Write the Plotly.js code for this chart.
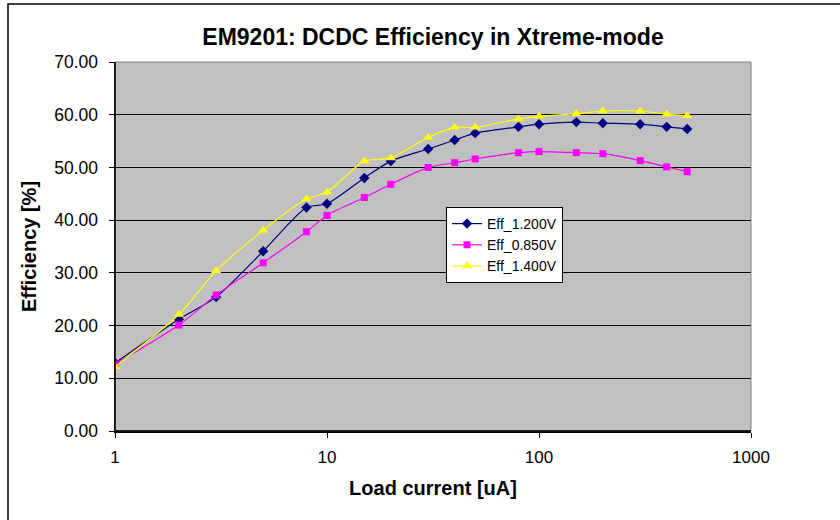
<!DOCTYPE html>
<html>
<head>
<meta charset="utf-8">
<script src="https://cdn.plot.ly/plotly-3.0.1.min.js"></script>
<style>
  html, body { margin: 0; padding: 0; background: #ffffff; }
  #chart { width: 840px; height: 520px; }
</style>
</head>
<body>
<div id="chart"></div>
<script>
// Load current [uA]
const loadCurrent = [1, 2, 3, 5, 8, 10, 15, 20, 30, 40, 50, 80, 100, 150, 200, 300, 400, 500];
// Efficiency [%]
const eff1200 = [12.9, 21.2, 25.4, 34.1, 42.4, 43.1, 48.0, 51.2, 53.5, 55.2, 56.5, 57.7, 58.2, 58.6, 58.4, 58.2, 57.7, 57.3];
const eff0850 = [12.7, 20.1, 25.8, 31.9, 37.8, 40.9, 44.3, 46.8, 50.0, 50.9, 51.6, 52.8, 53.0, 52.8, 52.6, 51.3, 50.1, 49.2];
const eff1400 = [12.2, 22.1, 30.4, 38.1, 44.0, 45.3, 51.2, 51.8, 55.7, 57.6, 57.6, 59.2, 59.7, 60.2, 60.7, 60.7, 60.1, 59.8];

const seriesNames = ['Eff_1.200V', 'Eff_0.850V', 'Eff_1.400V'];
const xTickVals = [1, 10, 100, 1000];
const xTickText = ['1', '10', '100', '1000'];

const FONT = 'Liberation Sans, Arial, Helvetica, sans-serif';

const traces = [
  {
    x: loadCurrent, y: eff1200, name: seriesNames[0], type: 'scatter', mode: 'lines+markers',
    line: { color: '#000080', width: 1.2, shape: 'spline', smoothing: 0.7 },
    marker: { symbol: 'diamond', size: 8, color: '#000080' }
  },
  {
    x: loadCurrent, y: eff0850, name: seriesNames[1], type: 'scatter', mode: 'lines+markers',
    line: { color: '#FF00FF', width: 1.2, shape: 'spline', smoothing: 0.7 },
    marker: { symbol: 'square', size: 7, color: '#FF00FF' }
  },
  {
    x: loadCurrent, y: eff1400, name: seriesNames[2], type: 'scatter', mode: 'lines+markers',
    line: { color: '#FFFF00', width: 1.2, shape: 'spline', smoothing: 0.7 },
    marker: { symbol: 'triangle-up', size: 9, color: '#FFFF00' }
  }
];

const layout = {
  width: 840, height: 520,
  margin: { l: 115, r: 89, t: 62, b: 89 },
  paper_bgcolor: '#ffffff',
  plot_bgcolor: '#C0C0C0',
  font: { family: FONT, color: '#000000', size: 17 },
  title: {
    text: 'EM9201: DCDC Efficiency in Xtreme-mode',
    font: { family: FONT, size: 23, color: '#000000', weight: 'bold' },
    x: 0.5, xref: 'paper', xanchor: 'center',
    y: 1 - 37 / 520, yref: 'container', yanchor: 'middle'
  },
  xaxis: {
    type: 'log', range: [0, 3],
    tickmode: 'array', tickvals: xTickVals, ticktext: xTickText,
    showgrid: false, zeroline: false,
    showline: true, linecolor: '#000000', linewidth: 1.5,
    ticks: 'outside', ticklen: 5, tickcolor: '#000000', tickwidth: 1,
    ticklabelstandoff: 5,
    tickfont: { family: FONT, size: 17, color: '#000000' },
    title: { text: 'Load current [uA]', font: { family: FONT, size: 20, weight: 'bold', color: '#000000' }, standoff: 15 }
  },
  yaxis: {
    range: [0, 70], dtick: 10, tick0: 0, tickformat: '.2f',
    showgrid: true, gridcolor: '#000000', gridwidth: 1,
    zeroline: false,
    showline: true, linecolor: '#000000', linewidth: 1.5,
    ticks: 'outside', ticklen: 5, tickcolor: '#000000', tickwidth: 1,
    ticklabelstandoff: 7,
    tickfont: { family: FONT, size: 17.5, color: '#000000' },
    title: { text: 'Efficiency [%]', font: { family: FONT, size: 20, weight: 'bold', color: '#000000' }, standoff: 12 }
  },
  legend: {
    x: (446 - 115) / 636, y: (431 - 207) / 369, xanchor: 'left', yanchor: 'top',
    bgcolor: '#ffffff', bordercolor: '#000000', borderwidth: 1,
    font: { family: FONT, size: 14, color: '#000000' },
    itemwidth: 30
  },
  showlegend: true,
  shapes: [
    { type: 'rect', xref: 'paper', yref: 'paper', x0: 0, x1: 1, y0: 0, y1: 1,
      line: { color: '#808080', width: 1 }, layer: 'above' },
    { type: 'line', xref: 'paper', yref: 'paper', x0: 0, x1: 0, y0: 0, y1: 1,
      line: { color: '#000000', width: 1.5 }, layer: 'above' },
    { type: 'line', xref: 'paper', yref: 'paper', x0: 0, x1: 1, y0: 0, y1: 0,
      line: { color: '#000000', width: 1.5 }, layer: 'above' },
    { type: 'rect', xref: 'paper', yref: 'paper',
      x0: (8 - 115) / 636, x1: 1.5, y0: -0.5, y1: (431 - 4) / 369,
      line: { color: '#000000', width: 1.5 }, layer: 'below', fillcolor: 'rgba(0,0,0,0)' }
  ]
};

Plotly.newPlot('chart', traces, layout, { displayModeBar: false, staticPlot: true });
</script>
</body>
</html>
